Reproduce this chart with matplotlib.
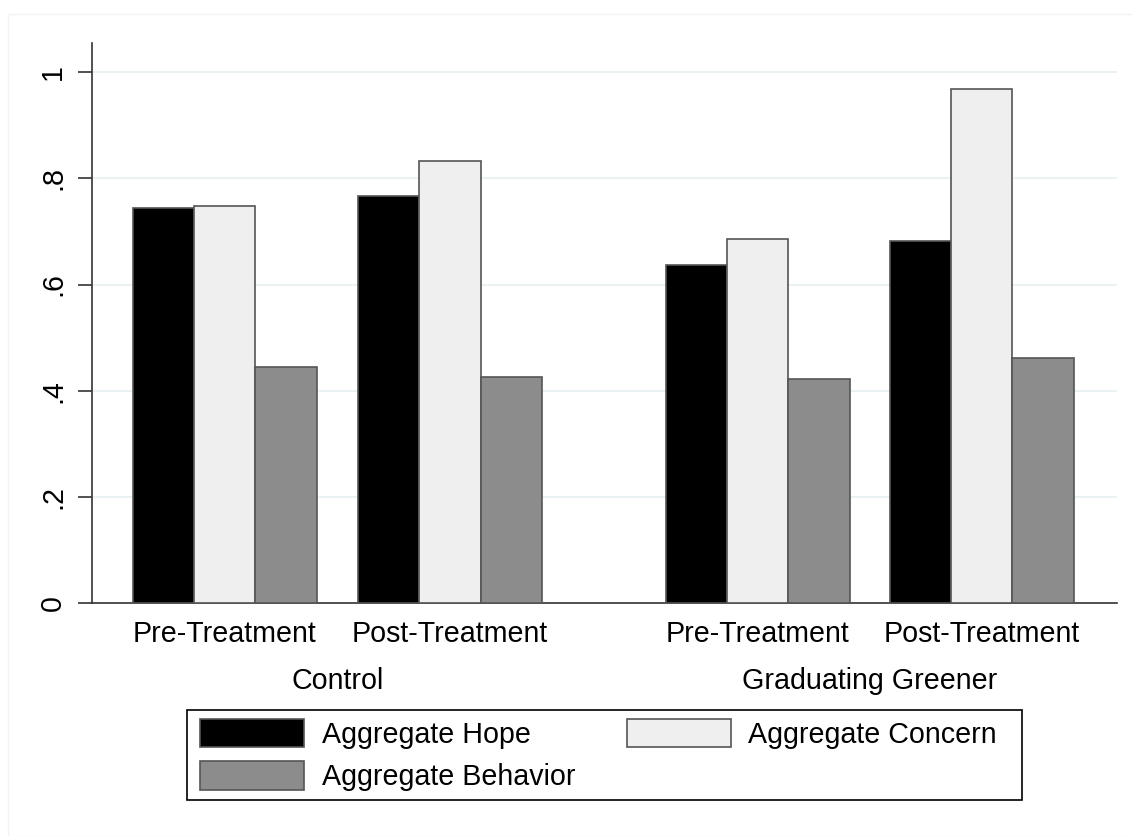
import numpy as np
import matplotlib.pyplot as plt
from matplotlib.patches import Rectangle
from matplotlib.transforms import blended_transform_factory

plt.rcParams['font.family'] = ['Liberation Sans', 'DejaVu Sans']

# datos
groups = ['Control', 'Graduating Greener']
periods = ['Pre-Treatment', 'Post-Treatment']
series = ['Aggregate Hope', 'Aggregate Concern', 'Aggregate Behavior']
hope = [0.744, 0.766, 0.637, 0.682]
concern = [0.748, 0.832, 0.686, 0.968]
behavior = [0.444, 0.426, 0.422, 0.461]
colors = ['#000000', '#efefef', '#8c8c8c']

# posiciones de los subgrupos (ancho de barra = 1)
centers = np.array([0.0, 3.68, 8.71, 12.37])
width = 1.0
W, H = 1132, 836
fs = 20.6

fig = plt.figure(figsize=(W / 100, H / 100), dpi=100)
# borde tenue de la region del grafico
fig.patches.append(Rectangle((8 / W, 0), 1.2, 1 - 14 / H, transform=fig.transFigure,
                             fill=False, edgecolor='#f3f3f3', linewidth=1))

ax = fig.add_axes([92 / W, 1 - 603 / H, (1117 - 92) / W, (603 - 43) / H])

for k, (vals, col) in enumerate(zip([hope, concern, behavior], colors)):
    ax.bar(centers + (k - 1) * width, vals, width=width, color=col,
           edgecolor='#555555', linewidth=1.2, label=series[k], zorder=3)

ax.set_xlim(-2.17, 14.58)
ax.set_ylim(0, 1.055)
ax.set_yticks([0, 0.2, 0.4, 0.6, 0.8, 1.0])
ax.set_yticklabels(['0', '.2', '.4', '.6', '.8', '1'], rotation=90, va='center', fontsize=fs)
ax.yaxis.grid(True, color='#eaf2f3', linewidth=1.5, zorder=0)
ax.set_axisbelow(True)
ax.tick_params(axis='y', length=10, width=1.2, color='#333333', pad=8)

ax.set_xticks(centers)
ax.set_xticklabels(periods * 2, fontsize=fs)
ax.tick_params(axis='x', length=0, pad=12)

for s in ['top', 'right']:
    ax.spines[s].set_visible(False)
for s in ['left', 'bottom']:
    ax.spines[s].set_color('#333333')
    ax.spines[s].set_linewidth(1.2)

trans = blended_transform_factory(ax.transData, ax.transAxes)
for i, g in enumerate(groups):
    xc = (centers[2 * i] + centers[2 * i + 1]) / 2
    ax.text(xc, -0.139, g, transform=trans, ha='center', va='center', fontsize=fs)

# caja de la leyenda
fig.patches.append(Rectangle((187 / W, 1 - 800 / H), (1022 - 187) / W, 90 / H,
                             transform=fig.transFigure, fill=False,
                             edgecolor='#000000', linewidth=1.2))

handles, labels = ax.get_legend_handles_labels()
order = [0, 2, 1]
leg = fig.legend([handles[i] for i in order], [labels[i] for i in order],
                 loc='upper left', bbox_to_anchor=(200 / W, 1 - 719 / H), ncol=2,
                 fontsize=fs, frameon=False, borderpad=0, borderaxespad=0,
                 handlelength=3.65, handleheight=1.15, handletextpad=0.6,
                 columnspacing=1.8, labelspacing=0.44)

plt.savefig('out.png', dpi=100)
